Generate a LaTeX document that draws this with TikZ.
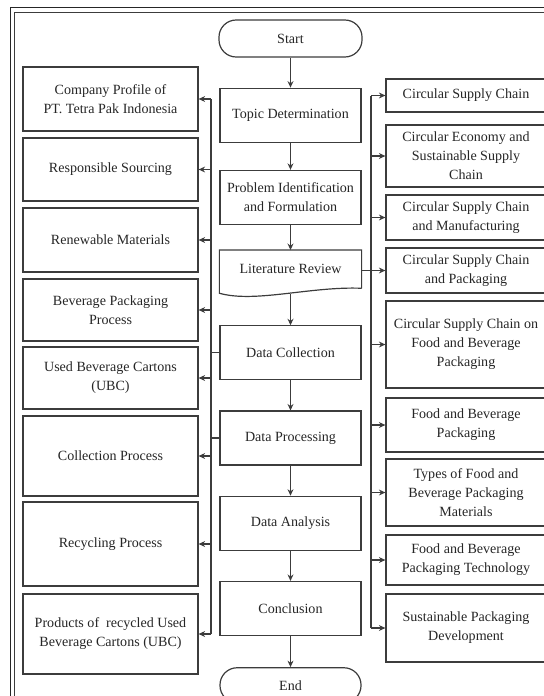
\documentclass[tikz,border=0pt]{standalone}
\usepackage{fontspec}
\setmainfont{Liberation Serif}
\usetikzlibrary{arrows.meta, positioning, calc}

\begin{document}
\begin{tikzpicture}[
    x=0.025cm, y=-0.025cm,
    >={Stealth[length=4.6pt,width=4.2pt]},
    node distance=0.75cm,
]
\definecolor{inkGray}{HTML}{262626}
\definecolor{lineGray}{HTML}{3C3C3C}

\tikzset{
    stepbox/.style={
        rectangle, draw=lineGray, line width=0.85pt,
        minimum width=3.525cm, minimum height=1.35cm,
        font=\fontsize{10}{13.5}\selectfont, align=center, text=inkGray,
    },
    terminal/.style={stepbox, rounded corners=0.43cm, minimum height=0.925cm},
    leftbox/.style={stepbox, minimum width=4.375cm},
    rightbox/.style={stepbox, minimum width=4cm},
    flow/.style={->, draw=lineGray, line width=0.85pt},
    bus/.style={draw=lineGray, line width=0.85pt},
}

\useasboundingbox (0,0) rectangle (544,696);
\clip (0,0) rectangle (544,696);

% double page frame, cut off at the right and at the bottom
\draw[black!85, line width=1.1pt] (10.5,720) -- (10.5,7.5) -- (560,7.5);
\draw[lineGray, line width=0.7pt] (14.7,720) -- (14.7,12.7) -- (560,12.7);

% main column
\node[terminal, minimum width=3.575cm] (start) at (290.5,38.5) {Start};
\node[stepbox, below=0.75cm of start] (topic) {Topic Determination};
\node[stepbox, below=0.675cm of topic] (problem) {Problem Identification\\and Formulation};
\node[stepbox, draw=none, minimum height=0.925cm, below=0.625cm of problem] (litrev) {Literature Review};
\draw[bus] (litrev.south east) -- (litrev.north east) -- (litrev.north west)
    -- ($(litrev.south west)+(0,5)$)
    .. controls ($(litrev.south)+(-35.5,15)$) and ($(litrev.south)+(19.5,-2)$) .. (litrev.south east);
\coordinate (litbot) at ($(litrev.south)+(0,5.5)$);
\node[stepbox, below=0.925cm of litrev] (dcoll) {Data Collection};
\node[stepbox, below=of dcoll] (dproc) {Data Processing};
\node[stepbox, below=of dproc] (danal) {Data Analysis};
\node[stepbox, below=of danal] (concl) {Conclusion};
\node[terminal, minimum height=0.875cm, below=0.775cm of concl] (finish) {End};

\draw[flow] (start) -- (topic);
\draw[flow] (topic) -- (problem);
\draw[flow] (problem) -- (litrev);
\draw[flow] (litbot) -- (dcoll);
\draw[flow] (dcoll) -- (dproc);
\draw[flow] (dproc) -- (danal);
\draw[flow] (danal) -- (concl);
\draw[flow] (concl) -- (finish);

% left column
\node[leftbox, minimum height=1.6cm] (profile) at (110.5,99) {Company Profile of\\PT. Tetra Pak Indonesia};
\node[leftbox, minimum height=1.575cm] (sourcing) at (110.5,169.5) {Responsible Sourcing};
\node[leftbox, minimum height=1.6cm] (renewable) at (110.5,240) {Renewable Materials};
\node[leftbox, minimum height=1.55cm] (bevproc) at (110.5,310) {Beverage Packaging\\Process};
\node[leftbox, minimum height=1.55cm] (ubc) at (110.5,378) {Used Beverage Cartons\\(UBC)};
\node[leftbox, minimum height=2.0cm] (collect) at (110.5,456) {Collection Process};
\node[leftbox, minimum height=2.1cm] (recycle) at (110.5,544) {Recycling Process};
\node[leftbox, minimum height=2.0cm] (products) at (110.5,634) {Products of\ \ recycled Used\\Beverage Cartons (UBC)};

% right column
\node[rightbox, minimum height=0.825cm] (csc) at (466,95.5) {Circular Supply Chain};
\node[rightbox, minimum height=1.55cm] (cesc) at (466,156) {Circular Economy and\\Sustainable Supply\\Chain};
\node[rightbox, minimum height=1.125cm] (cscmanuf) at (466,217.5) {Circular Supply Chain\\and Manufacturing};
\node[rightbox, minimum height=1.125cm] (cscpack) at (466,270.5) {Circular Supply Chain\\and Packaging};
\node[rightbox, minimum height=2.175cm] (cscfood) at (466,344.5) {Circular Supply Chain on\\Food and Beverage\\Packaging};
\node[rightbox, minimum height=1.35cm] (fbpack) at (466,425) {Food and Beverage\\Packaging};
\node[rightbox, minimum height=1.675cm] (fbtypes) at (466,492.5) {Types of Food and\\Beverage Packaging\\Materials};
\node[rightbox, minimum height=1.25cm] (fbtech) at (466,560) {Food and Beverage\\Packaging Technology};
\node[rightbox, minimum height=1.7cm] (sustain) at (466,628) {Sustainable Packaging\\Development};

% left bus, fed by data collection and data processing
\coordinate (lbus) at (211,0);
\draw[bus] (lbus |- profile.east) -- (lbus |- products.east);
\draw[bus] (dcoll.west) -- (lbus |- dcoll.west);
\draw[bus] (dproc.west) -- (lbus |- dproc.west);
\draw[flow] (lbus |- profile.east) -- (profile.east);
\draw[flow] (lbus |- sourcing.east) -- (sourcing.east);
\draw[flow] (lbus |- renewable.east) -- (renewable.east);
\draw[flow] (lbus |- bevproc.east) -- (bevproc.east);
\draw[flow] (lbus |- ubc.east) -- (ubc.east);
\draw[flow] (lbus |- collect.east) -- (collect.east);
\draw[flow] (lbus |- recycle.east) -- (recycle.east);
\draw[flow] (lbus |- products.east) -- (products.east);

% right bus, fed by the literature review
\coordinate (rbus) at (371,0);
\draw[bus] (rbus |- csc.west) -- (rbus |- sustain.west);
\draw[flow] (litrev.east |- cscpack.west) -- (cscpack.west);
\draw[flow] (rbus |- csc.west) -- (csc.west);
\draw[flow] (rbus |- cesc.west) -- (cesc.west);
\draw[flow] (rbus |- cscmanuf.west) -- (cscmanuf.west);
\draw[flow] (rbus |- cscfood.west) -- (cscfood.west);
\draw[flow] (rbus |- fbpack.west) -- (fbpack.west);
\draw[flow] (rbus |- fbtypes.west) -- (fbtypes.west);
\draw[flow] (rbus |- fbtech.west) -- (fbtech.west);
\draw[flow] (rbus |- sustain.west) -- (sustain.west);

\end{tikzpicture}
\end{document}
